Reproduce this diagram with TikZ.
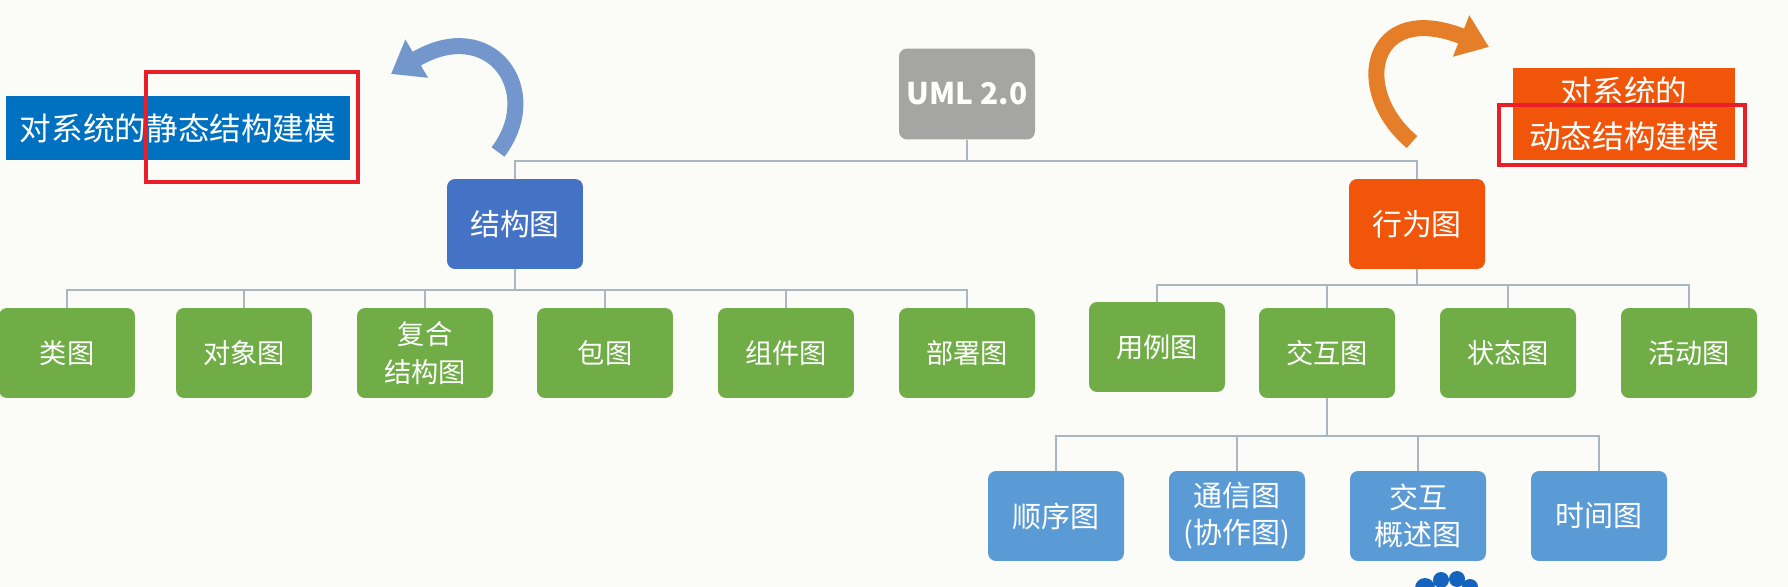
\documentclass[tikz,border=0pt]{standalone}
\usepackage{fontspec}
\newfontfamily\cjk{Noto Sans CJK SC}
\usetikzlibrary{arrows.meta}
\definecolor{bgwhite}{RGB}{251,252,248}
\definecolor{umlgray}{RGB}{165,165,163}
\definecolor{structblue}{RGB}{68,114,196}
\definecolor{behavorange}{RGB}{240,85,10}
\definecolor{leafgreen}{RGB}{112,173,71}
\definecolor{subblue}{RGB}{91,155,213}
\definecolor{bannerblue}{RGB}{0,112,192}
\definecolor{linegray}{RGB}{170,182,192}
\definecolor{arrowblue}{RGB}{115,151,204}
\definecolor{arroworange}{RGB}{228,126,40}
\definecolor{framered}{RGB}{232,30,40}
\definecolor{cloudblue}{RGB}{20,100,190}
\begin{document}
\begin{tikzpicture}[x=0.02cm,y=-0.02cm]
    \tikzstyle{box}=[rounded corners=0.16cm, minimum width=2.72cm, minimum height=1.8cm, inner sep=0pt, text=white, align=center];
    \tikzstyle{top}=[box, fill=umlgray, minimum height=1.82cm, font=\cjk\bfseries\fontsize{17}{20}\selectfont];
    \tikzstyle{kind}=[box, font=\cjk\fontsize{17}{20}\selectfont];
    \tikzstyle{leaf}=[box, fill=leafgreen, font=\cjk\fontsize{15.5}{22}\selectfont];
    \tikzstyle{sub}=[box, fill=subblue, font=\cjk\fontsize{16.5}{21}\selectfont];
    \tikzstyle{banner}=[inner sep=0pt, text=white, align=center, font=\cjk\fontsize{18}{26}\selectfont];
    \tikzstyle{link}=[draw=linegray, line width=0.04cm];
    \tikzstyle{redframe}=[draw=framered, line width=0.08cm];

    \useasboundingbox (0,0) rectangle (1788,587);
    \fill[bgwhite] (0,0) rectangle (1788,587);

    \node (uml) [top] at (967,94) {UML 2.0};
    \node (struct) [kind, fill=structblue] at (515,224) {结构图};
    \node (behav) [kind, fill=behavorange] at (1417,224) {行为图};

    \node (s1) [leaf] at (67,353) {类图};
    \node (s2) [leaf] at (244,353) {对象图};
    \node (s3) [leaf] at (425,353) {复合\\结构图};
    \node (s4) [leaf] at (605,353) {包图};
    \node (s5) [leaf] at (786,353) {组件图};
    \node (s6) [leaf] at (967,353) {部署图};

    \node (b1) [leaf] at (1157,347) {用例图};
    \node (b2) [leaf] at (1327,353) {交互图};
    \node (b3) [leaf] at (1508,353) {状态图};
    \node (b4) [leaf] at (1689,353) {活动图};

    \node (i1) [sub] at (1056,516) {顺序图};
    \node (i2) [sub] at (1237,516) {通信图\\(协作图)};
    \node (i3) [sub] at (1418,516) {交互\\概述图};
    \node (i4) [sub] at (1599,516) {时间图};

    % tree lines
    \draw[link] (uml.south) -- ++(0,21) -| (struct.north);
    \draw[link] (uml.south) -- ++(0,21) -| (behav.north);
    \foreach \i in {1,...,6}{
        \draw[link] (struct.south) -- ++(0,21) -| (s\i.north);
    }
    \foreach \i in {1,...,4}{
        \draw[link] (behav.south) -- ++(0,16) -| (b\i.north);
    }
    \foreach \i in {1,...,4}{
        \draw[link] (b2.south) -- ++(0,38) -| (i\i.north);
    }

    % banners
    \node (static) [banner, fill=bannerblue, minimum width=6.9cm, minimum height=1.3cm] at (178,128) {对系统的静态结构建模};
    \node (dynamic) [banner, fill=behavorange, minimum width=4.44cm, minimum height=1.84cm] at (1624,114) {对系统的\\动态结构建模};
    \draw[redframe] (146,72) rectangle (358,182);
    \draw[redframe] (1499,105) rectangle (1745,165);

    % curved arrows
    \coordinate (bluetail) at (498,152);
    \coordinate (bluetip) at (391,74);
    \draw[line width=0.32cm, draw=arrowblue, -{Triangle[length=0.6cm,width=0.85cm]}]
        (bluetail) .. controls (545,90) and (490,15) .. (bluetip);
    \coordinate (orangetail) at (1412,142);
    \coordinate (orangetip) at (1489,47);
    \draw[line width=0.32cm, draw=arroworange, -{Triangle[length=0.6cm,width=0.85cm]}]
        (orangetail) .. controls (1350,90) and (1370,0) .. (orangetip);

    % cloud at the bottom edge
    \begin{scope}
        \clip (1400,570) rectangle (1490,587);
        \fill[cloudblue] (1425,588) circle (10) (1441,580) circle (8) (1457,579) circle (8) (1470,587) circle (8);
    \end{scope}
\end{tikzpicture}
\end{document}
